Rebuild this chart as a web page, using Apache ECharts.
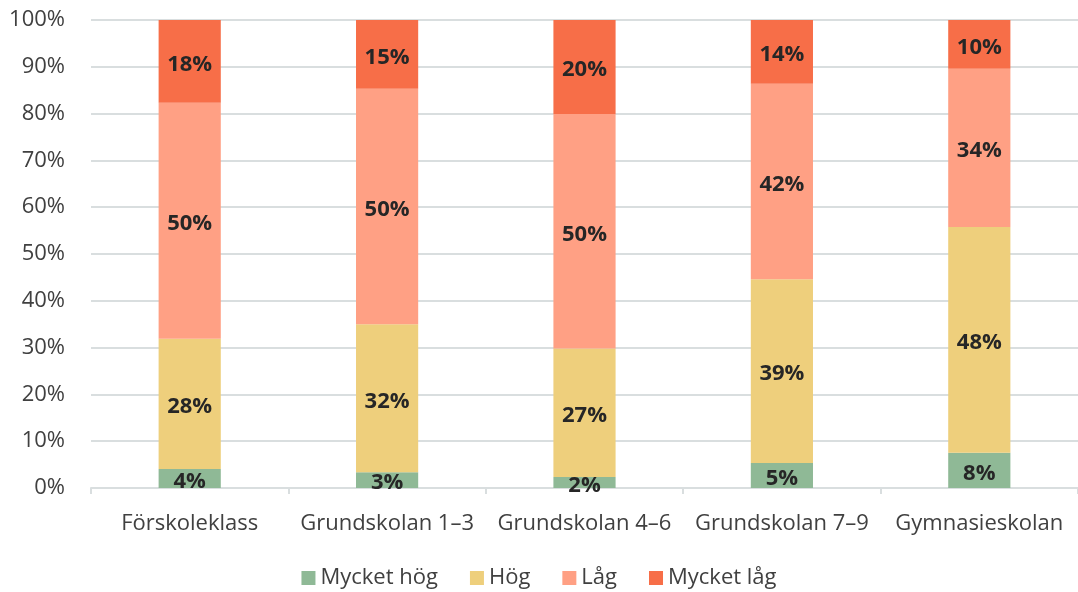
<!DOCTYPE html>
<html><head><meta charset="utf-8">
<script src="https://cdn.jsdelivr.net/npm/echarts@6/dist/echarts.min.js"></script>
<style>html,body{margin:0;padding:0;background:#fff}#c{width:1078px;height:592px}</style>
</head><body><div id="c"></div>
<script>
const categories = ['Förskoleklass', 'Grundskolan 1–3', 'Grundskolan 4–6', 'Grundskolan 7–9', 'Gymnasieskolan'];
const seriesNames = ['Mycket hög', 'Hög', 'Låg', 'Mycket låg'];
const mycketHog = [4.06, 3.35, 2.35, 5.34, 7.55];
const hog = [27.85, 31.65, 27.45, 39.26, 48.22];
const lag = [50.39, 50.3, 50.1, 41.8, 33.83];
const mycketLag = [17.7, 14.7, 20.1, 13.6, 10.4];
const yTicks = [0, 10, 20, 30, 40, 50, 60, 70, 80, 90, 100];
const colors = ['#8FB996', '#EECF7C', '#FFA084', '#F76E48'];
const values = [mycketHog, hog, lag, mycketLag];

const font = '"Open Sans", "Noto Sans", sans-serif';
const chart = echarts.init(document.getElementById('c'));
chart.setOption({
  animation: false,
  textStyle: { fontFamily: font },
  grid: { left: 91, right: 0, top: 20, bottom: 104, containLabel: false },
  legend: {
    bottom: -2, left: 'center', itemWidth: 14, itemHeight: 14, itemGap: 32,
    icon: 'rect',
    textStyle: { fontSize: 22, color: '#404040', fontFamily: font },
    data: seriesNames
  },
  xAxis: {
    type: 'category', data: categories,
    axisLine: { lineStyle: { color: '#D9DEDF', width: 2 } },
    axisTick: { show: true, alignWithLabel: false, length: 6, lineStyle: { color: '#D9DEDF', width: 2 } },
    axisLabel: { fontSize: 22, color: '#404040', margin: 25, interval: 0, fontFamily: font }
  },
  yAxis: {
    type: 'value', min: yTicks[0], max: yTicks[yTicks.length - 1], interval: 10,
    axisLine: { show: false }, axisTick: { show: false },
    splitLine: { lineStyle: { color: '#D9DEDF', width: 2 } },
    axisLabel: { fontSize: 22, color: '#404040', margin: 26, formatter: '{value}%', fontFamily: font }
  },
  series: seriesNames.map((name, i) => ({
    name, type: 'bar', stack: 'total', barWidth: '31.5%',
    data: values[i],
    itemStyle: { color: colors[i] },
    label: {
      show: true, position: 'inside', offset: [0, 3],
      formatter: p => Math.round(p.value) + '%',
      fontSize: 22, fontWeight: 'bold', color: '#262626', fontFamily: font
    }
  }))
});
</script></body></html>
